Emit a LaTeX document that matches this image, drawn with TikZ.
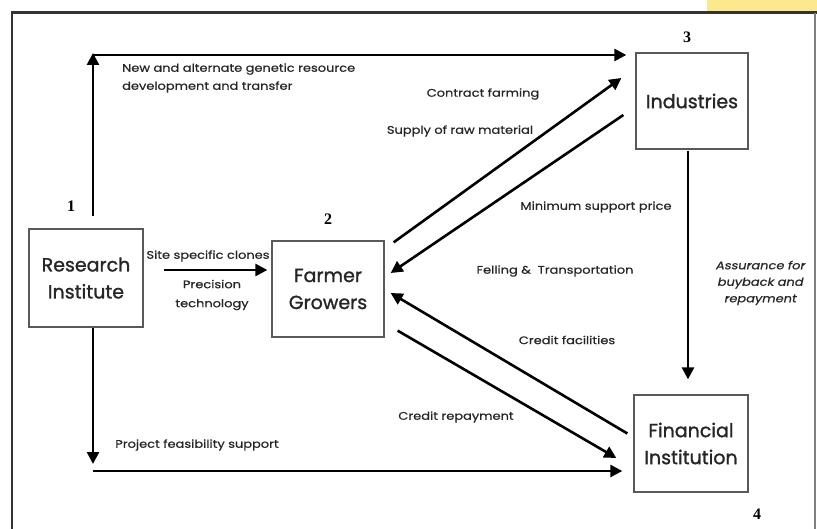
\documentclass[tikz,border=0pt]{standalone}
\usepackage{fontspec}
\setmainfont{Poppins}
\newfontfamily\numfont{Liberation Serif}
\newfontfamily\boxfont[FakeBold=1.2]{Poppins}
\newfontfamily\lblfont[FakeStretch=1.18,FakeBold=0.6]{Poppins}
\newfontfamily\slantfont[FakeSlant=0.2,FakeStretch=1.18,FakeBold=0.6]{Poppins}
\usetikzlibrary{arrows.meta,calc}
\definecolor{patch}{HTML}{FCE98E}
\begin{document}
\begin{tikzpicture}[x=1pt,y=-1pt,
  box/.style={draw=black!65,line width=1.3pt,inner sep=0pt,align=center,
    text=black!85,font=\boxfont\fontsize{19}{27}\selectfont},
  arr/.style={line width=2.6pt,draw=black,-{Triangle[length=12pt,width=12pt]}},
  lbl/.style={font=\lblfont\fontsize{11}{18}\selectfont,text=black!85,inner sep=0pt},
  num/.style={font=\numfont\bfseries\fontsize{16}{16}\selectfont,inner sep=0pt}
]
\useasboundingbox (0,0) rectangle (817,529);
\fill[white] (0,0) rectangle (817,529);
\fill[patch] (707,0) rectangle (817,11);
% frame
\draw[line width=3pt,black!80] (11,13) -- (817,13);
\draw[line width=2pt,black!80] (12,13) -- (12,529);
\draw[line width=1.5pt,black!50] (815,13) -- (815,529);

% boxes
\node[box,minimum width=114pt,minimum height=98pt] (ri) at (86,278) {Research\\Institute};
\node[box,minimum width=112pt,minimum height=96pt] (fg) at (328,289) {Farmer\\Growers};
\node[box,minimum width=112pt,minimum height=96pt] (ind) at (692,101) {Industries};
\node[box,minimum width=114pt,minimum height=97pt] (fi) at (691,443.5) {Financial\\Institution};

% numbers
\node[num] (n1) at (71,206) {1};
\node[num] (n2) at (328,219) {2};
\node[num] (n3) at (687,37) {3};
\node[num] (n4) at (757,514) {4};

% corner points
\coordinate (c1) at (93,55);
\coordinate (c2) at (93,471);

% research institute -> industries
\draw[arr,shorten <=12pt,shorten >=-2pt] (ri.north -| c1) -- (c1);
\draw[arr,shorten >=9pt] (c1) -- (ind.west |- c1);
% research institute -> financial
\draw[arr,shorten >=7pt] (ri.south -| c1) -- (c2);
\draw[arr,shorten >=11pt] (c2) -- (fi.west |- c2);
% research -> farmer
\draw[arr] ($(ri.east)+(20,-8)$) -- ($(fg.west)+(-4,-19)$);
% farmer -> industries
\draw[arr] ($(fg.north east)+(9,2)$) -- ($(ind.west)+(-14,-23)$);
% industries -> farmer
\draw[arr] ($(ind.west)+(-12,14)$) -- ($(fg.east)+(6,-16)$);
% financial -> farmer
\draw[arr] ($(fi.west)+(-6,-10)$) -- ($(fg.east)+(6,4)$);
% farmer -> financial
\draw[arr] ($(fg.south east)+(13,-7)$) -- ($(fi.west)+(-17,14.5)$);
% industries -> financial
\draw[arr] ($(ind.south)+(-4,1)$) -- ($(fi.north)+(-3,-15)$);

% labels
\node[lbl,anchor=west,align=left] (l1) at (122,78) {New and alternate genetic resource\\development and transfer};
\node[lbl] (l2) at (483,94) {Contract farming};
\node[lbl] (l3) at (460,131) {Supply of raw material};
\node[lbl] (l4) at (596,207) {Minimum support price};
\node[lbl] (l5) at (555,271) {Felling \&\ \ Transportation};
\node[lbl] (l6) at (567,340) {Credit facilities};
\node[lbl] (l7) at (456,417) {Credit repayment};
\node[lbl] (l8) at (197,445) {Project feasibility support};
\node[lbl] (l9) at (208,256) {Site specific clones};
\node[lbl,align=center,font=\lblfont\fontsize{11}{19}\selectfont] (l10) at (212,295) {Precision\\technology};
\node[lbl,align=center,font=\slantfont\fontsize{11}{16.5}\selectfont] (l11) at (760,283) {Assurance for\\buyback and\\repayment};
\end{tikzpicture}
\end{document}
